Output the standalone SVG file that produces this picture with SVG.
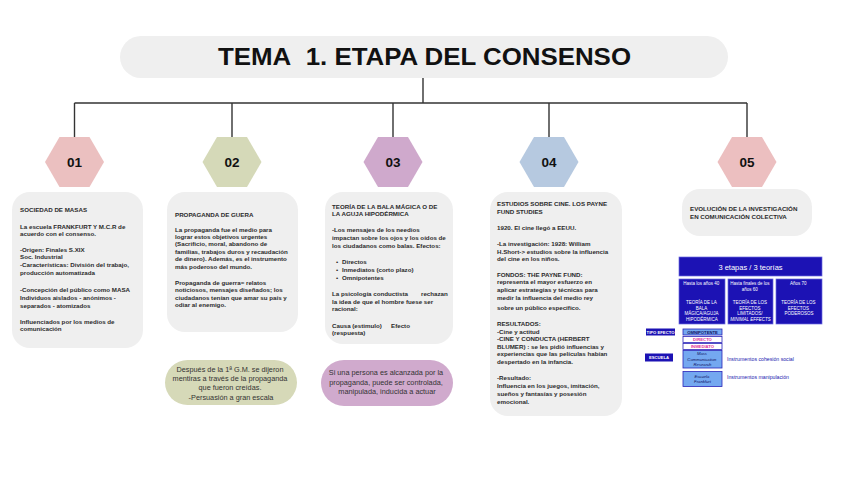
<svg xmlns="http://www.w3.org/2000/svg" width="848" height="477" viewBox="0 0 848 477">
<style>
.card{fill:#efefef}
.ct{font-family:"Liberation Sans",Arial,sans-serif;font-size:6.2px;font-weight:bold;fill:#2b2b2b}
.hex-t{font-family:"Liberation Sans",Arial,sans-serif;font-size:13.5px;font-weight:bold;fill:#111;text-anchor:middle}
.bt{font-family:"Liberation Sans",Arial,sans-serif;font-size:7.3px;fill:#333;text-anchor:middle}
.conn{stroke:#333;stroke-width:1.4;fill:none}
.blue{fill:#1c12b4}
.bbox{fill:#1c12b4;stroke:#6a6ae0;stroke-width:0.7}
.wt{font-family:"Liberation Sans",Arial,sans-serif;font-size:4.5px;fill:#fff;text-anchor:middle}
.lt{fill:#74a8f0;stroke:#2a24b8;stroke-width:0.8}
.wh{fill:#fff;stroke:#2a24b8;stroke-width:0.8}
.nt{font-family:"Liberation Sans",Arial,sans-serif;font-size:4.2px;font-weight:bold;fill:#101060;text-anchor:middle}
.mt{font-family:"Liberation Sans",Arial,sans-serif;font-size:4.2px;font-weight:bold;fill:#e0309a;text-anchor:middle}
.it{font-family:"Liberation Sans",Arial,sans-serif;font-size:4.2px;font-style:italic;fill:#101060;text-anchor:middle}
.lb{font-family:"Liberation Sans",Arial,sans-serif;font-size:4.2px;font-weight:bold;fill:#fff;text-anchor:middle}
.inst{font-family:"Liberation Sans",Arial,sans-serif;font-size:5.2px;fill:#2020b0}
</style>
<rect width="848" height="477" fill="#ffffff"/>

<g id="title">
<rect x="120" y="36" width="608" height="42" rx="21" fill="#efefef"/>
<text x="424.5" y="65" font-family="Liberation Sans, Arial, sans-serif" font-size="24" font-weight="bold" fill="#111" text-anchor="middle" textLength="413" lengthAdjust="spacingAndGlyphs">TEMA&#160; 1. ETAPA DEL CONSENSO</text>
</g>

<g id="connectors">
<path class="conn" d="M423 78 V103"/>
<path class="conn" d="M74.5 103 H747"/>
<path class="conn" d="M74.5 103 V137"/>
<path class="conn" d="M232 103 V137"/>
<path class="conn" d="M393 103 V137"/>
<path class="conn" d="M549 103 V137"/>
<path class="conn" d="M747 103 V137"/>
</g>

<g id="hex01">
<polygon points="45,162 59.5,137 89.5,137 104,162 89.5,187 59.5,187" fill="#ebc0c0"/>
<text class="hex-t" x="74.5" y="167">01</text>
</g>
<g id="hex02">
<polygon points="202.5,162 217,137 247,137 261.5,162 247,187 217,187" fill="#d5d9b8"/>
<text class="hex-t" x="232" y="167">02</text>
</g>
<g id="hex03">
<polygon points="363.5,162 378,137 408,137 422.5,162 408,187 378,187" fill="#cfa9cc"/>
<text class="hex-t" x="393" y="167">03</text>
</g>
<g id="hex04">
<polygon points="519.5,162 534,137 564,137 578.5,162 564,187 534,187" fill="#b6c9e0"/>
<text class="hex-t" x="549" y="167">04</text>
</g>
<g id="hex05">
<polygon points="717.5,162 732,137 762,137 776.5,162 762,187 732,187" fill="#ecbfc0"/>
<text class="hex-t" x="747" y="167">05</text>
</g>

<g id="card01">
<rect class="card" x="12" y="192" width="131" height="156" rx="18"/>
<text class="ct">
<tspan x="20" y="212">SOCIEDAD DE MASAS</tspan>
<tspan x="20" y="229">La escuela FRANKFURT Y M.C.R de</tspan>
<tspan x="20" y="236">acuerdo con el consenso.</tspan>
<tspan x="20" y="252">-Origen: Finales S.XIX</tspan>
<tspan x="20" y="259">Soc. Industrial</tspan>
<tspan x="20" y="267">-Características: División del trabajo,</tspan>
<tspan x="20" y="275">producción automatizada</tspan>
<tspan x="20" y="292">-Concepción del público como MASA</tspan>
<tspan x="20" y="300">Individuos aislados - anónimos -</tspan>
<tspan x="20" y="308">separados - atomizados</tspan>
<tspan x="20" y="324">Influenciados por los medios de</tspan>
<tspan x="20" y="331">comunicación</tspan>
</text>
</g>

<g id="card02">
<rect class="card" x="167" y="192" width="131" height="140" rx="18"/>
<text class="ct">
<tspan x="175" y="217">PROPAGANDA DE GUERA</tspan>
<tspan x="175" y="232">La propaganda fue el medio para</tspan>
<tspan x="175" y="239">lograr estos objetivos urgentes</tspan>
<tspan x="175" y="246">(Sacrificio, moral, abandono de</tspan>
<tspan x="175" y="254">familias, trabajos duros y recaudación</tspan>
<tspan x="175" y="261">de dinero). Además, es el instrumento</tspan>
<tspan x="175" y="269">más poderoso del mundo.</tspan>
<tspan x="175" y="285">Propaganda de guerra= relatos</tspan>
<tspan x="175" y="292">noticiosos, mensajes diseñados; los</tspan>
<tspan x="175" y="300">ciudadanos tenían que amar su país y</tspan>
<tspan x="175" y="307">odiar al enemigo.</tspan>
</text>
</g>

<g id="card03">
<rect class="card" x="325" y="192" width="128" height="152" rx="18"/>
<text class="ct">
<tspan x="332" y="209">TEORÍA DE LA BALA MÁGICA O DE</tspan>
<tspan x="332" y="216">LA AGUJA HIPODÉRMICA</tspan>
<tspan x="332" y="232">-Los mensajes de los needios</tspan>
<tspan x="332" y="240">impactan sobre los ojos y los oídos de</tspan>
<tspan x="332" y="248">los ciudadanos como balas. Efectos:</tspan>
<tspan x="336" y="264">•</tspan><tspan x="342" y="264">Directos</tspan>
<tspan x="336" y="272">•</tspan><tspan x="342" y="272">Inmediatos (corto plazo)</tspan>
<tspan x="336" y="280">•</tspan><tspan x="342" y="280">Omnipotentes</tspan>
<tspan x="332" y="296">La psicología conductista</tspan><tspan x="421" y="296">rechazan</tspan>
<tspan x="332" y="304">la idea de que el hombre fuese ser</tspan>
<tspan x="332" y="311">racional:</tspan>
<tspan x="332" y="328">Causa (estimulo)</tspan><tspan x="391" y="328">Efecto</tspan>
<tspan x="332" y="335">(respuesta)</tspan>
</text>
</g>

<g id="card04">
<rect class="card" x="490" y="192" width="132" height="224" rx="18"/>
<text class="ct">
<tspan x="497" y="206">ESTUDIOS SOBRE CINE. LOS PAYNE</tspan>
<tspan x="497" y="214">FUND STUDIES</tspan>
<tspan x="497" y="230">1920. El cine llegó a EEUU.</tspan>
<tspan x="497" y="246">-La investigación: 1928: William</tspan>
<tspan x="497" y="254">H.Short-&gt; estudios sobre la influencia</tspan>
<tspan x="497" y="261">del cine en los niños.</tspan>
<tspan x="497" y="277">FONDOS: THE PAYNE FUND:</tspan>
<tspan x="497" y="284">representa el mayor esfuerzo en</tspan>
<tspan x="497" y="292">aplicar estrategias y técnicas para</tspan>
<tspan x="497" y="300">medir la influencia del medio rey</tspan>
<tspan x="497" y="310">sobre un público específico.</tspan>
<tspan x="497" y="326">RESULTADOS:</tspan>
<tspan x="497" y="334">-Cine y actitud</tspan>
<tspan x="497" y="341">-CINE Y CONDUCTA (HERBERT</tspan>
<tspan x="497" y="349">BLUMER) : se les pidió influencias y</tspan>
<tspan x="497" y="356">experiencias que las películas habían</tspan>
<tspan x="497" y="364">despertado en la infancia.</tspan>
<tspan x="497" y="380">-Resultado:</tspan>
<tspan x="497" y="388">Influencia en los juegos, imitación,</tspan>
<tspan x="497" y="396">sueños y fantasías y posesión</tspan>
<tspan x="497" y="404">emocional.</tspan>
</text>
</g>

<g id="card05">
<rect class="card" x="682" y="189" width="130" height="47" rx="18"/>
<text class="ct">
<tspan x="690" y="211">EVOLUCIÓN DE LA INVESTIGACIÓN</tspan>
<tspan x="690" y="219">EN COMUNICACIÓN COLECTIVA</tspan>
</text>
</g>

<g id="bubble02">
<rect x="165" y="360" width="132" height="45" rx="22.5" fill="#d6d9b8"/>
<text class="bt">
<tspan x="231" y="372">Después de la 1ª G.M. se dijeron</tspan>
<tspan x="231" y="381">mentiras a través de la propaganda</tspan>
<tspan x="231" y="390">que fueron creídas.</tspan>
<tspan x="231" y="400">-Persuasión a gran escala</tspan>
</text>
</g>

<g id="bubble03">
<rect x="321" y="360" width="132" height="46" rx="23" fill="#d0aacd"/>
<text class="bt">
<tspan x="387" y="375">Si una persona es alcanzada por la</tspan>
<tspan x="387" y="385">propaganda, puede ser controlada,</tspan>
<tspan x="387" y="394">manipulada, inducida a actuar</tspan>
</text>
</g>

<g id="panel-header">
<rect class="bbox" x="679" y="257" width="143" height="19"/>
<text x="750.5" y="269.5" font-family="Liberation Sans, Arial, sans-serif" font-size="7.5" fill="#fff" text-anchor="middle">3 etapas / 3 teorías</text>
</g>
<g id="panel-box1">
<rect class="bbox" x="679" y="279" width="46" height="45"/>
<text class="wt">
<tspan x="702" y="285">Hasta los años 40</tspan>
<tspan x="702" y="304">TEORÍA DE LA</tspan>
<tspan x="702" y="309.5">BALA</tspan>
<tspan x="702" y="315">MÁGICA/AGUJA</tspan>
<tspan x="702" y="321">HIPODÉRMICA</tspan>
</text>
</g>
<g id="panel-box2">
<rect class="bbox" x="728" y="279" width="45" height="45"/>
<text class="wt">
<tspan x="750.5" y="285">Hasta finales de los</tspan>
<tspan x="750.5" y="290.5">años 60</tspan>
<tspan x="750.5" y="304">TEORÍA DE LOS</tspan>
<tspan x="750.5" y="309.5">EFECTOS</tspan>
<tspan x="750.5" y="315">LIMITADOS/</tspan>
<tspan x="750.5" y="321" font-style="italic">MINIMAL EFFECTS</tspan>
</text>
</g>
<g id="panel-box3">
<rect class="bbox" x="776" y="279" width="46" height="45"/>
<text class="wt">
<tspan x="799" y="285">Años 70</tspan>
<tspan x="799" y="304">TEORÍA DE LOS</tspan>
<tspan x="799" y="309.5">EFECTOS</tspan>
<tspan x="799" y="315">PODEROSOS</tspan>
</text>
</g>

<g id="tipo-efecto">
<rect class="blue" x="646" y="328.5" width="29" height="7"/>
<text class="lb" x="660.5" y="333.5">TIPO EFECTO</text>
</g>
<g id="escuela">
<rect class="blue" x="645" y="353.5" width="28" height="8"/>
<text class="lb" x="659" y="359">ESCUELA</text>
</g>
<g id="omnipotente">
<rect class="lt" x="683" y="329" width="39" height="6"/>
<text class="nt" x="702.5" y="333.5">OMNIPOTENTE</text>
</g>
<g id="directo">
<rect class="wh" x="683" y="336.5" width="39" height="6"/>
<text class="mt" x="702.5" y="341">DIRECTO</text>
</g>
<g id="inmediato">
<rect class="wh" x="683" y="343.5" width="39" height="6"/>
<text class="mt" x="702.5" y="348">INMEDIATO</text>
</g>
<g id="mass">
<rect class="lt" x="683" y="350.5" width="39" height="17.5"/>
<text class="it">
<tspan x="702.5" y="355">Mass</tspan>
<tspan x="702.5" y="360.5">Communication</tspan>
<tspan x="702.5" y="366">Research</tspan>
</text>
</g>
<g id="frankfurt">
<rect class="lt" x="683" y="371.5" width="39" height="15"/>
<text class="it">
<tspan x="702.5" y="377.5">Escuela</tspan>
<tspan x="702.5" y="383">Frankfurt</tspan>
</text>
</g>
<g id="instrumentos">
<text class="inst" x="727" y="361">Instrumentos cohesión social</text>
<text class="inst" x="727" y="379">Instrumentos manipulación</text>
</g>
</svg>
